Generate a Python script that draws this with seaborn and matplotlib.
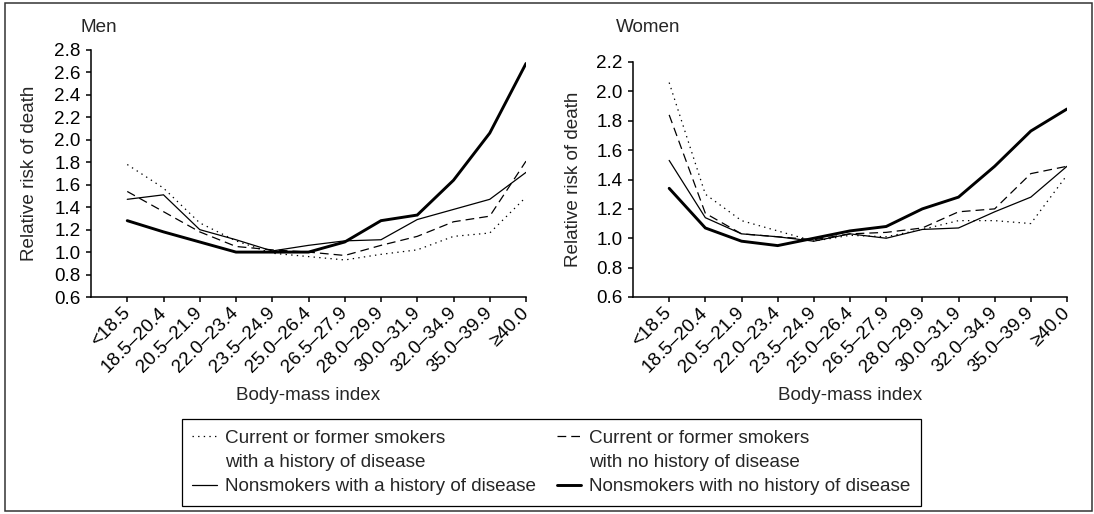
import matplotlib
matplotlib.use("Agg")
import matplotlib.pyplot as plt
from matplotlib.lines import Line2D
from matplotlib.patches import Rectangle
import numpy as np
import pandas as pd
import seaborn as sns

# BMI categories on the x axis
bmi = ["<18.5", "18.5–20.4", "20.5–21.9", "22.0–23.4", "23.5–24.9", "25.0–26.4",
       "26.5–27.9", "28.0–29.9", "30.0–31.9", "32.0–34.9", "35.0–39.9", "≥40.0"]

# Relative risk of death, men
men_smk_hist = [1.78, 1.57, 1.26, 1.10, 0.99, 0.96, 0.93, 0.98, 1.02, 1.14, 1.17, 1.49]
men_smk_nohist = [1.54, 1.36, 1.18, 1.05, 1.02, 1.00, 0.97, 1.06, 1.14, 1.27, 1.32, 1.81]
men_non_hist = [1.47, 1.51, 1.20, 1.11, 1.01, 1.06, 1.10, 1.11, 1.29, 1.38, 1.47, 1.71]
men_non_nohist = [1.28, 1.18, 1.09, 1.00, 1.00, 1.00, 1.09, 1.28, 1.33, 1.64, 2.06, 2.68]

# Relative risk of death, women
women_smk_hist = [2.06, 1.30, 1.12, 1.05, 0.98, 1.02, 1.01, 1.06, 1.12, 1.12, 1.10, 1.43]
women_smk_nohist = [1.84, 1.17, 1.03, 1.01, 0.99, 1.03, 1.04, 1.07, 1.18, 1.20, 1.44, 1.49]
women_non_hist = [1.53, 1.14, 1.03, 1.01, 0.98, 1.03, 1.00, 1.06, 1.07, 1.18, 1.28, 1.49]
women_non_nohist = [1.34, 1.07, 0.98, 0.95, 1.00, 1.05, 1.08, 1.20, 1.28, 1.49, 1.73, 1.88]

legend_labels = ["Current or former smokers", "with a history of disease",
                 "Nonsmokers with a history of disease",
                 "Current or former smokers", "with no history of disease",
                 "Nonsmokers with no history of disease"]

sns.set_theme(style="ticks")
plt.rcParams["font.family"] = ["Liberation Sans", "DejaVu Sans"]
plt.rcParams["axes.edgecolor"] = "black"
plt.rcParams["axes.linewidth"] = 1.1
plt.rcParams["xtick.color"] = "black"
plt.rcParams["ytick.color"] = "black"

FS = 13.6
DOT = (0, (1.1, 3.4))
DASH = (0, (7, 4))
line_styles = [
    dict(lw=0.9, ls=DOT),
    dict(lw=0.9, ls=DASH),
    dict(lw=0.9, ls="-"),
    dict(lw=2.1, ls="-"),
]

W, H = 1094, 514
fig = plt.figure(figsize=(W / 100, H / 100), dpi=100)


def px_axes(left, top, right, bottom):
    return fig.add_axes([left / W, 1 - bottom / H, (right - left) / W, (bottom - top) / H])


ax_m = px_axes(91, 50, 526, 297)
ax_w = px_axes(633, 62, 1067, 297)

panels = [
    (ax_m, "Men", 80, 30, [men_smk_hist, men_smk_nohist, men_non_hist, men_non_nohist], 2.8),
    (ax_w, "Women", 616, 573, [women_smk_hist, women_smk_nohist, women_non_hist, women_non_nohist], 2.2),
]

x = np.arange(len(bmi))
for ax, title, tx, ylx, series, ymax in panels:
    for vals, st in zip(series, line_styles):
        df = pd.DataFrame({"x": x, "rr": vals})
        sns.lineplot(data=df, x="x", y="rr", ax=ax, color="black",
                     linewidth=st["lw"], linestyle=st["ls"], solid_joinstyle="miter")
    ax.set_xlim(-1, 11)
    ax.set_ylim(0.6, ymax)
    ax.set_yticks(np.round(np.arange(0.6, ymax + 0.01, 0.2), 1))
    ax.set_yticklabels([f"{v:.1f}" for v in ax.get_yticks()], fontsize=FS)
    ax.set_xticks(x)
    ax.set_xticklabels(bmi, fontsize=FS, rotation=45, ha="right",
                       rotation_mode="anchor", va="center")
    ax.tick_params(axis="both", direction="out", length=3.6, width=1.1, pad=4)
    ax.tick_params(axis="x", pad=6)
    sns.despine(ax=ax)
    ax.set_xlabel("Body-mass index", fontsize=FS, va="center")
    ax.set_ylabel("Relative risk of death", fontsize=FS, va="center")
    bb = ax.get_position()
    h_px = bb.height * H
    w_px = bb.width * W
    ax.xaxis.set_label_coords(0.5, -(395 - 297) / h_px)
    ax.yaxis.set_label_coords(-(bb.x0 * W - ylx) / w_px, 0.5)
    fig.text(tx / W, 1 - 27 / H, title, fontsize=FS, ha="left", va="center")

# Legend: two columns, continuation lines use blank handles
blank = Line2D([], [], color="none")
handles = [Line2D([], [], color="black", lw=0.9, linestyle=DOT), blank,
           Line2D([], [], color="black", lw=0.9),
           Line2D([], [], color="black", lw=0.9, linestyle=DASH), blank,
           Line2D([], [], color="black", lw=2.1)]
leg = fig.legend(handles, legend_labels, loc="upper left",
                 bbox_to_anchor=(182 / W, 1 - 419 / H),
                 bbox_transform=fig.transFigure, ncol=2, fontsize=FS, frameon=True,
                 fancybox=False, framealpha=1, edgecolor="black", borderaxespad=0,
                 borderpad=0.55, handlelength=1.3, handletextpad=0.42,
                 columnspacing=1.1, labelspacing=0.38)
leg.get_frame().set_linewidth(0.9)

# Outer frame around the whole figure
fig.patches.append(Rectangle((5 / W, 3 / H), 1087 / W, 508 / H, transform=fig.transFigure,
                             fill=False, edgecolor="#333333", linewidth=1.1))

fig.savefig("out.png", dpi=100)
